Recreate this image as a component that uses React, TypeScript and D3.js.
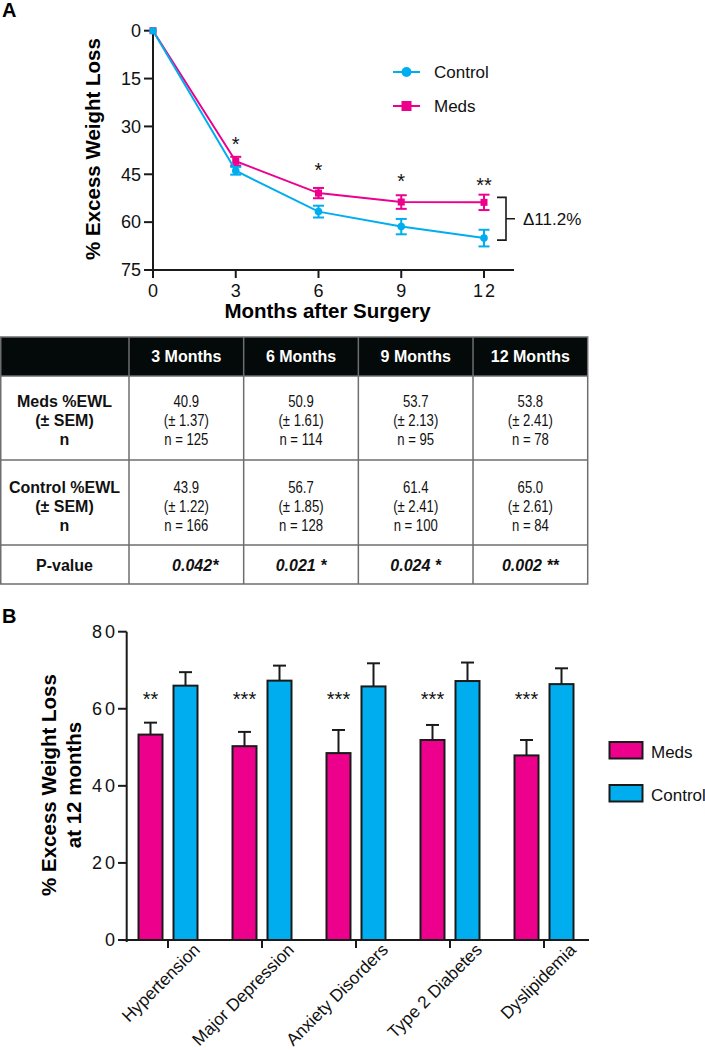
import React from "react";
import * as d3 from "d3";

// ---------- Panel A data ----------
const months = [0, 3, 6, 9, 12];
const medsEWL = [0, 40.9, 50.9, 53.7, 53.8];
const medsSEM = [0, 1.37, 1.61, 2.13, 2.41];
const medsN = [null, 125, 114, 95, 78];
const controlEWL = [0, 43.9, 56.7, 61.4, 65.0];
const controlSEM = [0, 1.22, 1.85, 2.41, 2.61];
const controlN = [null, 166, 128, 100, 84];
const sigMarksA = ["*", "*", "*", "**"];
const sigLevelA = [34, 42.1, 45.8, 46.8];
const yTicksA = [0, 15, 30, 45, 60, 75];
const xTicksA = [0, 3, 6, 9, 12];
const deltaLabel = "Δ11.2%";

// ---------- Table data ----------
const tableHeaders = ["3 Months", "6 Months", "9 Months", "12 Months"];
const pValues = ["\u00a0\u00a0\u00a0\u00a00.042*", "0.021 *", "0.024 *", "0.002 **"];

// ---------- Panel B data ----------
const conditions = ["Hypertension", "Major Depression", "Anxiety Disorders", "Type 2 Diabetes", "Dyslipidemia"];
const medsB = [53.3, 50.3, 48.5, 51.9, 47.9];
const medsBErr = [3.1, 3.7, 6.0, 3.9, 4.0];
const controlB = [66.0, 67.3, 65.8, 67.2, 66.4];
const controlBErr = [3.5, 3.9, 6.0, 4.8, 4.1];
const sigB = ["**", "***", "***", "***", "***"];
const sigLevelB = 63.8;
const yTicksB = [0, 20, 40, 60, 80];
const seriesB = ["Meds", "Control"];

const PINK = "#EC008C";
const BLUE = "#00AEEF";
const INK = "#1a1a1a";
const FONT = "'Liberation Sans', Arial, Helvetica, sans-serif";

export default function App() {
  // ----- Panel A scales -----
  const xA = d3.scaleLinear().domain([0, 12]).range([153, 484]);
  const yA = d3.scaleLinear().domain([0, 75]).range([30.7, 270]);
  const lineA = d3
    .line<number>()
    .x((_, i) => xA(months[i]))
    .y((v) => yA(v));

  // ----- Table geometry -----
  const colX = d3.scaleBand<string>().domain(tableHeaders).range([129, 587.7]);
  const tTop = 337, hBot = 376, r1Bot = 460, r2Bot = 545, r3Bot = 584;

  // ----- Panel B scales -----
  const xB = d3.scaleBand<string>().domain(conditions).range([121, 591]);
  const xSub = d3.scaleBand<string>().domain(seriesB).range([-29.5, 29.5]).paddingInner(11 / 35);
  const yB = d3.scaleLinear().domain([0, 80]).range([940, 631.7]);
  const cx = (c: string) => (xB(c) as number) + xB.bandwidth() / 2;

  const errA = (vals: number[], sems: number[], color: string) =>
    vals.map((v, i) =>
      i === 0 ? null : (
        <g key={i} stroke={color} strokeWidth={2}>
          <line x1={xA(months[i])} x2={xA(months[i])} y1={yA(v - sems[i])} y2={yA(v + sems[i])} />
          <line x1={xA(months[i]) - 5.5} x2={xA(months[i]) + 5.5} y1={yA(v - sems[i])} y2={yA(v - sems[i])} />
          <line x1={xA(months[i]) - 5.5} x2={xA(months[i]) + 5.5} y1={yA(v + sems[i])} y2={yA(v + sems[i])} />
        </g>
      )
    );

  const narrow = (txt: string, x: number, y: number, key: string) => (
    <text key={key} transform={`translate(${x},${y}) scale(0.82,1)`} textAnchor="middle" fontSize={16} fill="#111">
      {txt}
    </text>
  );

  const bTop = yA(medsEWL[4]) - 5;
  const bBot = yA(controlEWL[4]) + 2;
  const bMid = (bTop + bBot) / 2;

  return (
    <svg
      width={705}
      height={1050}
      style={{ position: "absolute", left: 0, top: 0, display: "block", background: "#fff" }}
      fontFamily={FONT}
    >
      <rect x={0} y={0} width={705} height={1050} fill="#fff" />
      {/* ================= Panel A ================= */}
      <text x={2} y={17} fontSize={20} fontWeight="bold" fill="#000">A</text>

      {/* axes */}
      <g stroke={INK} strokeWidth={2} fill="none">
        <line x1={153} x2={153} y1={yA(0)} y2={270} />
        <line x1={152} x2={514} y1={270} y2={270} />
        {yTicksA.map((t) => (
          <line key={"yt" + t} x1={144} x2={153} y1={yA(t)} y2={yA(t)} />
        ))}
        {xTicksA.map((t) => (
          <line key={"xt" + t} x1={xA(t)} x2={xA(t)} y1={270} y2={278} />
        ))}
      </g>
      {yTicksA.map((t) => (
        <text key={"yl" + t} x={141} y={yA(t) + 6.3} textAnchor="end" fontSize={18} fill="#111">
          {t}
        </text>
      ))}
      {xTicksA.map((t) => (
        <text key={"xl" + t} x={xA(t) + 1} y={297} textAnchor="middle" fontSize={18} letterSpacing={2} fill="#111">
          {t}
        </text>
      ))}
      <text x={327.5} y={318} textAnchor="middle" fontSize={20.5} fontWeight="bold" fill="#000">
        Months after Surgery
      </text>
      <text transform={`translate(100,149) rotate(-90)`} textAnchor="middle" fontSize={20.5} fontWeight="bold" fill="#000">
        % Excess Weight Loss
      </text>

      {/* series */}
      <path d={lineA(medsEWL) || ""} fill="none" stroke={PINK} strokeWidth={2} />
      {errA(medsEWL, medsSEM, PINK)}
      {medsEWL.map((v, i) => (
        <rect key={"ms" + i} x={xA(months[i]) - 3.5} y={yA(v) - 3.5} width={7} height={7} fill={PINK} />
      ))}
      <path d={lineA(controlEWL) || ""} fill="none" stroke={BLUE} strokeWidth={2} />
      {errA(controlEWL, controlSEM, BLUE)}
      {controlEWL.map((v, i) => (
        <circle key={"cc" + i} cx={xA(months[i])} cy={yA(v)} r={3.8} fill={BLUE} />
      ))}

      {/* significance */}
      {sigMarksA.map((s, i) => (
        <text key={"sa" + i} x={xA(months[i + 1])} y={yA(sigLevelA[i]) + 11.5} textAnchor="middle" fontSize={20} fill="#111">
          {s}
        </text>
      ))}

      {/* legend A */}
      <line x1={393} x2={420} y1={72} y2={72} stroke={BLUE} strokeWidth={2} />
      <circle cx={406.5} cy={72} r={5} fill={BLUE} />
      <text x={434} y={78} fontSize={17} fill="#111">Control</text>
      <line x1={393} x2={420} y1={106} y2={106} stroke={PINK} strokeWidth={2} />
      <rect x={401.5} y={101} width={10} height={10} fill={PINK} />
      <text x={434} y={112} fontSize={17} fill="#111">Meds</text>

      {/* bracket */}
      <path
        d={`M497,${bTop}H506V${bBot}H497M506,${bMid}H515`}
        fill="none"
        stroke={INK}
        strokeWidth={1.6}
      />
      <text x={523} y={bMid + 6.5} fontSize={17} fill="#111">{deltaLabel}</text>

      {/* ================= Table ================= */}
      <rect x={0} y={tTop} width={587.7} height={hBot - tTop} fill="#040909" />
      {tableHeaders.map((h) => (
        <text
          key={"th" + h}
          x={(colX(h) as number) + colX.bandwidth() / 2}
          y={362}
          textAnchor="middle"
          fontSize={16}
          fontWeight="bold"
          fill="#fff"
        >
          {h}
        </text>
      ))}
      {/* row labels */}
      {["Meds %EWL", "(± SEM)", "n"].map((t, k) => (
        <text key={"r1l" + k} x={64.5} y={407.3 + k * 18.8} textAnchor="middle" fontSize={16} fontWeight="bold" fill="#111">
          {t}
        </text>
      ))}
      {["Control %EWL", "(± SEM)", "n"].map((t, k) => (
        <text key={"r2l" + k} x={64.5} y={493.3 + k * 18.8} textAnchor="middle" fontSize={16} fontWeight="bold" fill="#111">
          {t}
        </text>
      ))}
      <text x={64.5} y={570.7} textAnchor="middle" fontSize={16} fontWeight="bold" fill="#111">P-value</text>
      {tableHeaders.map((h, j) => {
        const c = (colX(h) as number) + colX.bandwidth() / 2;
        return (
          <g key={"tc" + h}>
            {narrow(medsEWL[j + 1].toFixed(1), c, 407.3, "a")}
            {narrow(`(± ${medsSEM[j + 1].toFixed(2)})`, c, 426.1, "b")}
            {narrow(`n = ${medsN[j + 1]}`, c, 444.9, "c")}
            {narrow(controlEWL[j + 1].toFixed(1), c, 493.3, "d")}
            {narrow(`(± ${controlSEM[j + 1].toFixed(2)})`, c, 512.1, "e")}
            {narrow(`n = ${controlN[j + 1]}`, c, 530.9, "f")}
            <text x={c} y={570.7} textAnchor="middle" fontSize={16} fontWeight="bold" fontStyle="italic" fill="#111" style={{ whiteSpace: "pre" }}>
              {pValues[j]}
            </text>
          </g>
        );
      })}
      {/* grid lines */}
      <g stroke="#6e6e6e" strokeWidth={1.5} fill="none">
        <rect x={0.75} y={tTop} width={586.95} height={r3Bot - tTop} />
        {[hBot, r1Bot, r2Bot].map((yy) => (
          <line key={"hl" + yy} x1={0} x2={587.7} y1={yy} y2={yy} />
        ))}
        {[129, ...tableHeaders.slice(1).map((h) => colX(h) as number)].map((xx) => (
          <line key={"vl" + xx} x1={xx} x2={xx} y1={tTop} y2={r3Bot} />
        ))}
      </g>

      {/* ================= Panel B ================= */}
      <text x={2} y={623} fontSize={20} fontWeight="bold" fill="#000">B</text>

      {/* bars */}
      {conditions.map((c, i) => {
        const mx = cx(c) + (xSub("Meds") as number);
        const kx = cx(c) + (xSub("Control") as number);
        const bw = xSub.bandwidth();
        return (
          <g key={"bar" + c}>
            <g stroke={INK} strokeWidth={2}>
              <line x1={mx + bw / 2} x2={mx + bw / 2} y1={yB(medsB[i])} y2={yB(medsB[i] + medsBErr[i])} />
              <line x1={mx + bw / 2 - 6.5} x2={mx + bw / 2 + 6.5} y1={yB(medsB[i] + medsBErr[i])} y2={yB(medsB[i] + medsBErr[i])} />
              <line x1={kx + bw / 2} x2={kx + bw / 2} y1={yB(controlB[i])} y2={yB(controlB[i] + controlBErr[i])} />
              <line x1={kx + bw / 2 - 6.5} x2={kx + bw / 2 + 6.5} y1={yB(controlB[i] + controlBErr[i])} y2={yB(controlB[i] + controlBErr[i])} />
            </g>
            <rect x={mx} y={yB(medsB[i])} width={bw} height={yB(0) - yB(medsB[i])} fill={PINK} stroke={INK} strokeWidth={2} />
            <rect x={kx} y={yB(controlB[i])} width={bw} height={yB(0) - yB(controlB[i])} fill={BLUE} stroke={INK} strokeWidth={2} />
            <text x={mx + bw / 2} y={yB(sigLevelB) + 11.5} textAnchor="middle" fontSize={20} fill="#111">
              {sigB[i]}
            </text>
          </g>
        );
      })}

      {/* axes B */}
      <g stroke={INK} strokeWidth={2} fill="none">
        <line x1={126.7} x2={126.7} y1={yB(80)} y2={yB(0) + 2} />
        <line x1={126.7} x2={589} y1={yB(0)} y2={yB(0)} />
        {yTicksB.map((t) => (
          <line key={"ybt" + t} x1={118} x2={126.7} y1={yB(t)} y2={yB(t)} />
        ))}
        {conditions.map((c) => (
          <line key={"xbt" + c} x1={cx(c)} x2={cx(c)} y1={yB(0)} y2={yB(0) + 8} />
        ))}
      </g>
      {yTicksB.map((t) => (
        <text key={"ybl" + t} x={118} y={yB(t) + 6.3} textAnchor="end" fontSize={18} letterSpacing={3} fill="#111">
          {t}
        </text>
      ))}
      {conditions.map((c) => (
        <text
          key={"xbl" + c}
          transform={`translate(${cx(c) + 33},951) rotate(-45)`}
          textAnchor="end"
          fontSize={17.3}
          fill="#111"
        >
          {c}
        </text>
      ))}
      <text transform={`translate(56,785) rotate(-90)`} textAnchor="middle" fontSize={20.5} fontWeight="bold" fill="#000">
        % Excess Weight Loss
      </text>
      <text transform={`translate(81,785) rotate(-90)`} textAnchor="middle" fontSize={20.5} fontWeight="bold" fill="#000">
        at 12 months
      </text>

      {/* legend B */}
      <rect x={609.5} y={742} width={33} height={16.5} fill={PINK} stroke={INK} strokeWidth={2} />
      <text x={651} y={758} fontSize={17} fill="#111">Meds</text>
      <rect x={609.5} y={785} width={33} height={16.5} fill={BLUE} stroke={INK} strokeWidth={2} />
      <text x={651} y={801} fontSize={17} fill="#111">Control</text>
    </svg>
  );
}
